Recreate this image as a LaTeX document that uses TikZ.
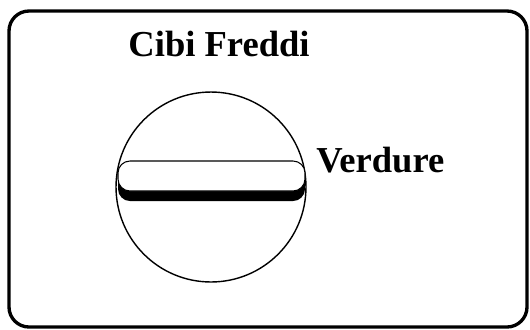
\documentclass[tikz,border=0pt]{standalone}
\usepackage{fontspec}
\setmainfont{Liberation Serif}
\begin{document}
\begin{tikzpicture}[
    x=0.02cm, y=-0.02cm,
    every node/.style={font=\fontsize{20.8}{24}\selectfont\bfseries, inner sep=0pt},
    panel/.style={
        draw,
        line width=1.9pt,
        rounded corners=0.4cm
    },
    knob/.style={
        draw,
        line width=0.8pt
    },
    slotedge/.style={
        rounded corners=0.24cm
    }
]
    \useasboundingbox (0,0) rectangle (530,329);

    % Outer panel
    \draw[panel] (9,11) rectangle (527,327);

    % Knob with slot
    \draw[knob] (211,187) circle[radius=1.9cm];
    \fill[slotedge, black] (118,168) rectangle (305,201);
    \draw[slotedge, fill=white, line width=0.6pt] (118,161) rectangle (305,191);

    % Labels
    \node[anchor=base] (cibi) at (219,56) {Cibi Freddi};
    \node[anchor=base west] (verdure) at (316,172) {Verdure};

\end{tikzpicture}
\end{document}
